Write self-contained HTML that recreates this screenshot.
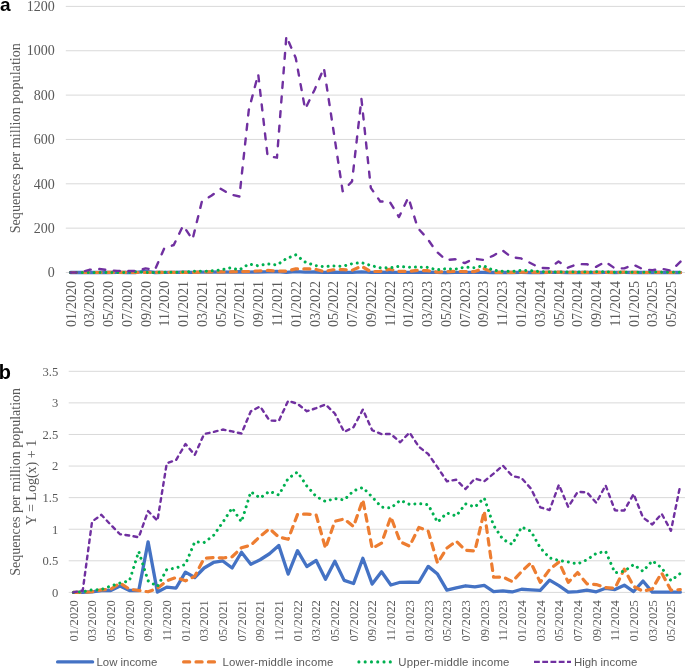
<!DOCTYPE html>
<html><head><meta charset="utf-8">
<style>
html,body{margin:0;padding:0;background:#fff;}
body{width:685px;height:668px;overflow:hidden;}
svg{display:block;will-change:transform;}
.ta{font-family:"Liberation Serif",serif;font-size:14px;fill:#595959;}
.tb{font-family:"Liberation Serif",serif;font-size:12.6px;fill:#595959;}
.lg{font-family:"Liberation Sans",sans-serif;font-size:11.4px;fill:#595959;}
.pl{font-family:"Liberation Sans",sans-serif;font-size:19px;font-weight:bold;fill:#000;}
</style></head>
<body>
<svg width="685" height="668" viewBox="0 0 685 668">
<line x1="65.8" y1="272.50" x2="686" y2="272.50" stroke="#d9d9d9" stroke-width="1"/>
<text x="54.8" y="277.20" class="ta" text-anchor="end">0</text>
<line x1="65.8" y1="228.15" x2="686" y2="228.15" stroke="#d9d9d9" stroke-width="1"/>
<text x="54.8" y="232.85" class="ta" text-anchor="end">200</text>
<line x1="65.8" y1="183.80" x2="686" y2="183.80" stroke="#d9d9d9" stroke-width="1"/>
<text x="54.8" y="188.50" class="ta" text-anchor="end">400</text>
<line x1="65.8" y1="139.45" x2="686" y2="139.45" stroke="#d9d9d9" stroke-width="1"/>
<text x="54.8" y="144.15" class="ta" text-anchor="end">600</text>
<line x1="65.8" y1="95.10" x2="686" y2="95.10" stroke="#d9d9d9" stroke-width="1"/>
<text x="54.8" y="99.80" class="ta" text-anchor="end">800</text>
<line x1="65.8" y1="50.75" x2="686" y2="50.75" stroke="#d9d9d9" stroke-width="1"/>
<text x="54.8" y="55.45" class="ta" text-anchor="end">1000</text>
<line x1="65.8" y1="6.40" x2="686" y2="6.40" stroke="#d9d9d9" stroke-width="1"/>
<text x="54.8" y="11.10" class="ta" text-anchor="end">1200</text>
<text transform="translate(75.50,281) rotate(-90)" class="ta" text-anchor="end">01/2020</text>
<text transform="translate(94.27,281) rotate(-90)" class="ta" text-anchor="end">03/2020</text>
<text transform="translate(113.04,281) rotate(-90)" class="ta" text-anchor="end">05/2020</text>
<text transform="translate(131.81,281) rotate(-90)" class="ta" text-anchor="end">07/2020</text>
<text transform="translate(150.58,281) rotate(-90)" class="ta" text-anchor="end">09/2020</text>
<text transform="translate(169.35,281) rotate(-90)" class="ta" text-anchor="end">11/2020</text>
<text transform="translate(188.12,281) rotate(-90)" class="ta" text-anchor="end">01/2021</text>
<text transform="translate(206.89,281) rotate(-90)" class="ta" text-anchor="end">03/2021</text>
<text transform="translate(225.66,281) rotate(-90)" class="ta" text-anchor="end">05/2021</text>
<text transform="translate(244.43,281) rotate(-90)" class="ta" text-anchor="end">07/2021</text>
<text transform="translate(263.20,281) rotate(-90)" class="ta" text-anchor="end">09/2021</text>
<text transform="translate(281.97,281) rotate(-90)" class="ta" text-anchor="end">11/2021</text>
<text transform="translate(300.74,281) rotate(-90)" class="ta" text-anchor="end">01/2022</text>
<text transform="translate(319.51,281) rotate(-90)" class="ta" text-anchor="end">03/2022</text>
<text transform="translate(338.28,281) rotate(-90)" class="ta" text-anchor="end">05/2022</text>
<text transform="translate(357.05,281) rotate(-90)" class="ta" text-anchor="end">07/2022</text>
<text transform="translate(375.82,281) rotate(-90)" class="ta" text-anchor="end">09/2022</text>
<text transform="translate(394.59,281) rotate(-90)" class="ta" text-anchor="end">11/2022</text>
<text transform="translate(413.36,281) rotate(-90)" class="ta" text-anchor="end">01/2023</text>
<text transform="translate(432.13,281) rotate(-90)" class="ta" text-anchor="end">03/2023</text>
<text transform="translate(450.90,281) rotate(-90)" class="ta" text-anchor="end">05/2023</text>
<text transform="translate(469.67,281) rotate(-90)" class="ta" text-anchor="end">07/2023</text>
<text transform="translate(488.44,281) rotate(-90)" class="ta" text-anchor="end">09/2023</text>
<text transform="translate(507.21,281) rotate(-90)" class="ta" text-anchor="end">11/2023</text>
<text transform="translate(525.98,281) rotate(-90)" class="ta" text-anchor="end">01/2024</text>
<text transform="translate(544.75,281) rotate(-90)" class="ta" text-anchor="end">03/2024</text>
<text transform="translate(563.52,281) rotate(-90)" class="ta" text-anchor="end">05/2024</text>
<text transform="translate(582.29,281) rotate(-90)" class="ta" text-anchor="end">07/2024</text>
<text transform="translate(601.06,281) rotate(-90)" class="ta" text-anchor="end">09/2024</text>
<text transform="translate(619.83,281) rotate(-90)" class="ta" text-anchor="end">11/2024</text>
<text transform="translate(638.60,281) rotate(-90)" class="ta" text-anchor="end">01/2025</text>
<text transform="translate(657.37,281) rotate(-90)" class="ta" text-anchor="end">03/2025</text>
<text transform="translate(676.14,281) rotate(-90)" class="ta" text-anchor="end">05/2025</text>
<text transform="translate(20.3,138.2) rotate(-90)" class="ta" style="font-size:14.2px" text-anchor="middle">Sequences per million population</text>
<polyline points="70.50,272.50 79.89,272.50 89.27,272.49 98.66,272.48 108.04,272.48 117.42,272.44 126.81,272.48 136.19,272.48 145.58,271.32 154.97,272.50 164.35,272.45 173.74,272.46 183.12,272.26 192.50,272.34 201.89,272.18 211.28,272.06 220.66,272.02 230.04,272.18 239.43,271.76 248.81,272.10 258.20,271.99 267.59,271.81 276.97,271.49 286.36,272.29 295.74,271.71 305.12,272.15 314.51,272.01 323.89,272.36 333.28,272.03 342.67,272.38 352.05,272.42 361.44,271.95 370.82,272.42 380.20,272.25 389.59,272.43 398.97,272.40 408.36,272.40 417.75,272.40 427.13,272.15 436.51,272.29 445.90,272.48 455.28,272.46 464.67,272.44 474.06,272.45 483.44,272.43 492.82,272.49 502.21,272.49 511.59,272.50 520.98,272.47 530.37,272.48 539.75,272.48 549.13,272.37 558.52,272.44 567.90,272.50 577.29,272.49 586.67,272.48 596.06,272.49 605.44,272.46 614.83,272.48 624.22,272.43 633.60,272.49 642.99,272.39 652.37,272.50 661.75,272.50 671.14,272.50 680.52,272.50" fill="none" stroke="#4472C4" stroke-width="3.3" stroke-linecap="round" stroke-linejoin="round"/>
<polyline points="70.50,272.50 79.89,272.50 89.27,272.49 98.66,272.48 108.04,272.47 117.42,272.41 126.81,272.47 136.19,272.48 145.58,272.49 154.97,272.46 164.35,272.38 173.74,272.34 183.12,272.38 192.50,272.32 201.89,271.95 211.28,271.93 220.66,271.94 230.04,271.91 239.43,271.59 248.81,271.49 258.20,271.01 267.59,270.47 276.97,271.06 286.36,271.18 295.74,268.93 305.12,268.87 314.51,268.99 323.89,271.62 333.28,269.76 342.67,269.50 352.05,270.27 361.44,266.25 370.82,271.62 380.20,271.39 389.59,269.24 398.97,271.32 408.36,271.53 417.75,270.36 427.13,270.65 436.51,272.08 445.90,271.61 455.28,271.29 464.67,271.69 474.06,271.72 483.44,268.44 492.82,272.34 502.21,272.33 511.59,272.39 520.98,272.25 530.37,272.07 539.75,272.40 549.13,272.21 558.52,272.05 567.90,272.40 577.29,272.26 586.67,272.42 596.06,272.43 605.44,272.46 614.83,272.46 624.22,272.20 633.60,272.45 642.99,272.49 652.37,272.47 661.75,272.27 671.14,272.48 680.52,272.48" fill="none" stroke="#ED7D31" stroke-width="3.2" stroke-dasharray="6.0 6.3" stroke-linecap="round" stroke-linejoin="round"/>
<polyline points="70.50,272.50 79.89,272.49 89.27,272.48 98.66,272.48 108.04,272.44 117.42,272.41 126.81,272.38 136.19,271.74 145.58,272.38 154.97,272.45 164.35,272.21 173.74,272.18 183.12,272.10 192.50,271.32 201.89,271.35 211.28,270.96 220.66,269.87 230.04,267.90 239.43,269.83 248.81,264.05 258.20,265.81 267.59,263.87 276.97,265.00 286.36,258.63 295.74,254.90 305.12,262.01 314.51,265.41 323.89,266.61 333.28,265.92 342.67,266.28 352.05,263.73 361.44,262.59 370.82,265.53 380.20,267.76 389.59,267.93 398.97,266.36 408.36,267.23 417.75,267.07 427.13,267.32 436.51,269.85 445.90,268.71 455.28,269.13 464.67,267.15 474.06,267.73 483.44,265.79 492.82,270.18 502.21,271.19 511.59,271.45 520.98,270.32 530.37,270.66 539.75,271.59 549.13,271.94 558.52,272.01 567.90,272.05 577.29,272.10 586.67,271.99 596.06,271.80 605.44,271.73 614.83,272.27 624.22,272.24 633.60,272.11 642.99,272.24 652.37,272.02 661.75,272.18 671.14,272.38 680.52,272.28" fill="none" stroke="#00B050" stroke-width="3.0" stroke-dasharray="0.01 5.9" stroke-linecap="round" stroke-linejoin="round"/>
<polyline points="70.50,272.50 79.89,272.48 89.27,269.79 98.66,268.97 108.04,270.12 117.42,270.88 126.81,270.96 136.19,271.07 145.58,268.42 154.97,269.70 164.35,248.18 173.74,245.00 183.12,225.53 192.50,239.47 201.89,201.46 211.28,195.83 220.66,188.80 230.04,194.40 239.43,196.54 248.81,109.84 258.20,74.17 267.59,156.08 276.97,157.68 286.36,36.20 295.74,58.01 305.12,109.09 314.51,89.97 323.89,67.91 333.28,129.22 342.67,191.28 352.05,181.34 361.44,99.00 370.82,187.83 380.20,201.46 389.59,201.46 398.97,217.02 408.36,197.41 417.75,227.86 427.13,238.38 436.51,251.54 445.90,259.99 455.28,259.27 464.67,263.13 474.06,258.67 483.44,259.99 492.82,255.90 502.21,250.13 511.59,257.27 520.98,258.40 530.37,262.97 539.75,267.79 549.13,268.26 558.52,261.51 567.90,267.73 577.29,264.09 586.67,264.19 596.06,266.92 605.44,261.74 614.83,268.32 624.22,268.34 633.60,264.71 642.99,269.33 652.37,270.09 661.75,268.81 671.14,270.63 680.52,261.63" fill="none" stroke="#7030A0" stroke-width="2.4" stroke-dasharray="6.0 8.6" stroke-linecap="round" stroke-linejoin="round"/>
<line x1="68.7" y1="592.40" x2="686" y2="592.40" stroke="#d9d9d9" stroke-width="1"/>
<text x="58.3" y="596.70" class="tb" text-anchor="end">0</text>
<line x1="68.7" y1="560.81" x2="686" y2="560.81" stroke="#d9d9d9" stroke-width="1"/>
<text x="58.3" y="565.11" class="tb" text-anchor="end">0.5</text>
<line x1="68.7" y1="529.23" x2="686" y2="529.23" stroke="#d9d9d9" stroke-width="1"/>
<text x="58.3" y="533.53" class="tb" text-anchor="end">1</text>
<line x1="68.7" y1="497.64" x2="686" y2="497.64" stroke="#d9d9d9" stroke-width="1"/>
<text x="58.3" y="501.94" class="tb" text-anchor="end">1.5</text>
<line x1="68.7" y1="466.06" x2="686" y2="466.06" stroke="#d9d9d9" stroke-width="1"/>
<text x="58.3" y="470.36" class="tb" text-anchor="end">2</text>
<line x1="68.7" y1="434.47" x2="686" y2="434.47" stroke="#d9d9d9" stroke-width="1"/>
<text x="58.3" y="438.77" class="tb" text-anchor="end">2.5</text>
<line x1="68.7" y1="402.89" x2="686" y2="402.89" stroke="#d9d9d9" stroke-width="1"/>
<text x="58.3" y="407.19" class="tb" text-anchor="end">3</text>
<line x1="68.7" y1="371.30" x2="686" y2="371.30" stroke="#d9d9d9" stroke-width="1"/>
<text x="58.3" y="375.60" class="tb" text-anchor="end">3.5</text>
<text transform="translate(77.70,600.2) rotate(-90)" class="tb" text-anchor="end">01/2020</text>
<text transform="translate(96.37,600.2) rotate(-90)" class="tb" text-anchor="end">03/2020</text>
<text transform="translate(115.05,600.2) rotate(-90)" class="tb" text-anchor="end">05/2020</text>
<text transform="translate(133.72,600.2) rotate(-90)" class="tb" text-anchor="end">07/2020</text>
<text transform="translate(152.40,600.2) rotate(-90)" class="tb" text-anchor="end">09/2020</text>
<text transform="translate(171.07,600.2) rotate(-90)" class="tb" text-anchor="end">11/2020</text>
<text transform="translate(189.74,600.2) rotate(-90)" class="tb" text-anchor="end">01/2021</text>
<text transform="translate(208.42,600.2) rotate(-90)" class="tb" text-anchor="end">03/2021</text>
<text transform="translate(227.09,600.2) rotate(-90)" class="tb" text-anchor="end">05/2021</text>
<text transform="translate(245.77,600.2) rotate(-90)" class="tb" text-anchor="end">07/2021</text>
<text transform="translate(264.44,600.2) rotate(-90)" class="tb" text-anchor="end">09/2021</text>
<text transform="translate(283.11,600.2) rotate(-90)" class="tb" text-anchor="end">11/2021</text>
<text transform="translate(301.79,600.2) rotate(-90)" class="tb" text-anchor="end">01/2022</text>
<text transform="translate(320.46,600.2) rotate(-90)" class="tb" text-anchor="end">03/2022</text>
<text transform="translate(339.14,600.2) rotate(-90)" class="tb" text-anchor="end">05/2022</text>
<text transform="translate(357.81,600.2) rotate(-90)" class="tb" text-anchor="end">07/2022</text>
<text transform="translate(376.48,600.2) rotate(-90)" class="tb" text-anchor="end">09/2022</text>
<text transform="translate(395.16,600.2) rotate(-90)" class="tb" text-anchor="end">11/2022</text>
<text transform="translate(413.83,600.2) rotate(-90)" class="tb" text-anchor="end">01/2023</text>
<text transform="translate(432.51,600.2) rotate(-90)" class="tb" text-anchor="end">03/2023</text>
<text transform="translate(451.18,600.2) rotate(-90)" class="tb" text-anchor="end">05/2023</text>
<text transform="translate(469.85,600.2) rotate(-90)" class="tb" text-anchor="end">07/2023</text>
<text transform="translate(488.53,600.2) rotate(-90)" class="tb" text-anchor="end">09/2023</text>
<text transform="translate(507.20,600.2) rotate(-90)" class="tb" text-anchor="end">11/2023</text>
<text transform="translate(525.88,600.2) rotate(-90)" class="tb" text-anchor="end">01/2024</text>
<text transform="translate(544.55,600.2) rotate(-90)" class="tb" text-anchor="end">03/2024</text>
<text transform="translate(563.22,600.2) rotate(-90)" class="tb" text-anchor="end">05/2024</text>
<text transform="translate(581.90,600.2) rotate(-90)" class="tb" text-anchor="end">07/2024</text>
<text transform="translate(600.57,600.2) rotate(-90)" class="tb" text-anchor="end">09/2024</text>
<text transform="translate(619.25,600.2) rotate(-90)" class="tb" text-anchor="end">11/2024</text>
<text transform="translate(637.92,600.2) rotate(-90)" class="tb" text-anchor="end">01/2025</text>
<text transform="translate(656.59,600.2) rotate(-90)" class="tb" text-anchor="end">03/2025</text>
<text transform="translate(675.27,600.2) rotate(-90)" class="tb" text-anchor="end">05/2025</text>
<text transform="translate(20.2,481.8) rotate(-90)" class="ta" text-anchor="middle">Sequences per million population</text>
<text transform="translate(36,482.5) rotate(-90)" class="ta" text-anchor="middle">Y = Log(x) + 1</text>
<polyline points="73.40,592.40 82.74,592.40 92.07,591.77 101.41,590.50 110.75,590.50 120.09,586.08 129.42,590.50 138.76,590.50 148.10,541.86 157.43,592.08 166.77,587.16 176.11,588.04 185.44,572.12 194.78,577.49 204.12,568.02 213.46,562.46 222.79,560.94 232.13,568.02 241.47,552.22 250.80,564.29 260.14,559.74 269.48,553.74 278.81,545.46 288.15,574.08 297.49,550.71 306.82,566.50 316.16,560.50 325.50,579.32 334.84,561.26 344.17,580.40 353.51,583.56 362.85,558.29 372.18,584.12 381.52,571.81 390.86,585.01 400.20,582.29 409.53,582.04 418.87,582.29 428.21,566.37 437.54,574.08 446.88,590.19 456.22,587.98 465.55,585.77 474.89,586.97 484.23,585.32 493.56,591.64 502.90,590.95 512.24,591.96 521.58,589.24 530.91,589.87 540.25,590.32 549.59,580.08 558.92,585.64 568.26,592.08 577.60,591.64 586.93,590.13 596.27,591.77 605.61,588.29 614.95,589.56 624.28,585.14 633.62,591.52 642.96,581.03 652.29,592.15 661.63,592.15 670.97,592.15 680.30,592.15" fill="none" stroke="#4472C4" stroke-width="3.3" stroke-linecap="round" stroke-linejoin="round"/>
<polyline points="73.40,592.40 82.74,592.40 92.07,591.77 101.41,589.87 110.75,589.24 120.09,583.05 129.42,589.24 138.76,590.50 148.10,591.77 157.43,588.36 166.77,580.84 176.11,577.49 185.44,580.84 194.78,576.29 204.12,558.29 213.46,557.53 222.79,557.97 232.13,556.77 241.47,547.74 250.80,545.28 260.14,536.31 269.48,528.79 278.81,537.06 288.15,539.27 297.49,514.51 306.82,514.07 316.16,514.95 325.50,548.31 334.84,521.27 344.17,519.00 353.51,526.51 362.85,499.86 372.18,548.37 381.52,543.13 390.86,516.85 400.20,541.86 409.53,546.16 418.87,527.46 428.21,531.13 437.54,563.09 446.88,548.05 456.22,541.23 465.55,550.27 474.89,551.02 484.23,511.16 493.56,577.24 502.90,576.92 512.24,581.66 521.58,571.55 530.91,562.77 540.25,582.29 549.59,569.53 558.92,562.02 568.26,582.29 577.60,572.56 586.93,583.81 596.27,584.57 605.61,587.66 614.95,588.29 624.28,569.15 633.62,586.40 642.96,591.26 652.29,588.93 661.63,572.94 670.97,590.25 680.30,589.56" fill="none" stroke="#ED7D31" stroke-width="3.2" stroke-dasharray="6.6 6.2" stroke-linecap="round" stroke-linejoin="round"/>
<polyline points="73.40,592.40 82.74,591.77 92.07,589.87 101.41,589.49 110.75,586.08 120.09,583.05 129.42,580.78 138.76,551.53 148.10,580.78 157.43,586.53 166.77,569.53 176.11,568.02 185.44,564.29 194.78,541.86 204.12,542.50 213.46,535.55 222.79,522.28 232.13,507.94 241.47,521.90 250.80,491.83 260.14,498.02 269.48,491.26 278.81,494.99 288.15,478.50 297.49,472.06 306.82,486.02 316.16,496.51 325.50,501.44 334.84,498.47 344.17,499.98 353.51,490.82 362.85,487.54 372.18,496.95 381.52,507.12 390.86,508.07 400.20,500.30 409.53,504.34 418.87,503.58 428.21,504.78 437.54,522.15 446.88,513.00 456.22,515.96 465.55,503.96 474.89,506.99 484.23,497.96 493.56,525.44 502.90,539.34 512.24,544.39 521.58,527.02 530.91,531.19 540.25,547.74 549.59,557.97 558.92,560.50 568.26,562.02 577.60,563.97 586.93,559.74 596.27,553.42 605.61,551.34 614.95,572.82 624.28,571.17 633.62,564.61 642.96,571.30 652.29,560.81 661.63,567.83 670.97,580.65 680.30,573.45" fill="none" stroke="#00B050" stroke-width="3.0" stroke-dasharray="0.01 5.95" stroke-linecap="round" stroke-linejoin="round"/>
<polyline points="73.40,592.40 82.74,590.50 92.07,521.52 101.41,514.83 110.75,524.81 120.09,534.28 129.42,535.55 138.76,537.25 148.10,511.04 157.43,520.70 166.77,463.28 176.11,459.93 185.44,444.01 194.78,454.94 204.12,434.03 213.46,431.95 222.79,429.55 232.13,431.44 241.47,433.53 250.80,411.35 260.14,406.43 269.48,420.51 278.81,420.89 288.15,400.81 297.49,403.77 306.82,411.23 316.16,408.20 325.50,404.47 334.84,413.50 344.17,431.95 353.51,427.21 362.85,409.59 372.18,430.24 381.52,434.03 390.86,434.03 400.20,442.24 409.53,432.52 418.87,446.73 428.21,454.06 437.54,467.32 446.88,481.28 456.22,479.77 465.55,489.05 474.89,478.57 484.23,481.28 493.56,473.64 502.90,465.55 512.24,475.98 521.58,478.06 530.91,488.61 540.25,507.31 549.59,510.03 558.92,484.76 568.26,506.99 577.60,491.96 586.93,492.28 596.27,502.82 605.61,485.33 614.95,510.41 624.28,510.53 633.62,493.98 642.96,517.54 652.29,524.49 661.63,513.69 670.97,530.81 680.30,485.07" fill="none" stroke="#7030A0" stroke-width="2.4" stroke-dasharray="3.7 4.5" stroke-linecap="round" stroke-linejoin="round"/>
<line x1="57.6" y1="661.9" x2="92.6" y2="661.9" stroke="#4472C4" stroke-width="3.3" stroke-linecap="round"/>
<text x="96.5" y="665.6" class="lg">Low income</text>
<line x1="183.6" y1="661.9" x2="215" y2="661.9" stroke="#ED7D31" stroke-width="3.2" stroke-dasharray="6.1 6.3" stroke-linecap="round"/>
<text x="222.6" y="665.6" class="lg" letter-spacing="0.14">Lower-middle income</text>
<line x1="358.9" y1="661.9" x2="390.5" y2="661.9" stroke="#00B050" stroke-width="3.1" stroke-dasharray="0.01 6.27" stroke-linecap="round"/>
<text x="398.3" y="665.6" class="lg" letter-spacing="0.16">Upper-middle income</text>
<line x1="534" y1="661.9" x2="571" y2="661.9" stroke="#7030A0" stroke-width="2.4" stroke-dasharray="5.8 2.45" stroke-linecap="butt"/>
<text x="574.0" y="665.6" class="lg">High income</text>
<text x="0" y="10.8" class="pl">a</text>
<text x="-1.2" y="378.8" class="pl" style="font-size:19.9px">b</text>
</svg>
</body></html>
